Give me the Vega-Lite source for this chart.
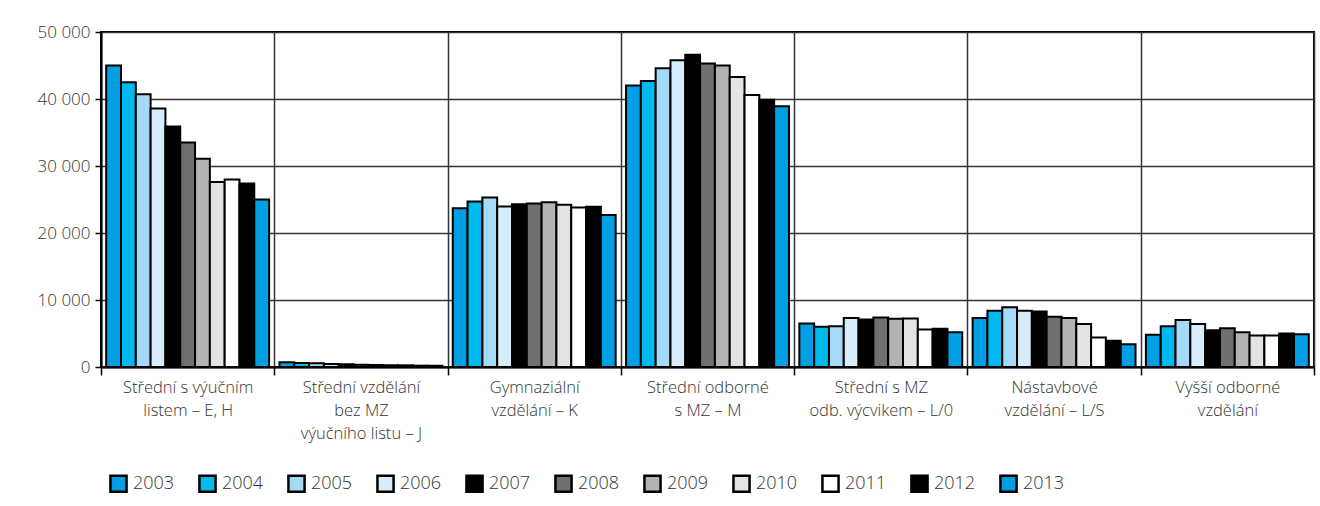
{
  "$schema": "https://vega.github.io/schema/vega-lite/v6.json",
  "width": 1213,
  "height": 335,
  "autosize": "none",
  "padding": {"left": 101, "top": 32, "right": 6, "bottom": 139},
  "background": "white",
  "config": {
    "locale": {"number": {"decimal": ",", "thousands": " ", "grouping": [3], "currency": ["", " Kč"]}},
    "view": {"stroke": "#000", "strokeWidth": 2},
    "font": "Open Sans",
    "axis": {"labelFontWeight": 300},
    "legend": {"labelFontWeight": 300}
  },
  "datasets": {
    "d": [
      {"cat": "Střední s výučním|listem – E, H", "year": "2003", "value": 45000},
      {"cat": "Střední s výučním|listem – E, H", "year": "2004", "value": 42500},
      {"cat": "Střední s výučním|listem – E, H", "year": "2005", "value": 40700},
      {"cat": "Střední s výučním|listem – E, H", "year": "2006", "value": 38600},
      {"cat": "Střední s výučním|listem – E, H", "year": "2007", "value": 35900},
      {"cat": "Střední s výučním|listem – E, H", "year": "2008", "value": 33500},
      {"cat": "Střední s výučním|listem – E, H", "year": "2009", "value": 31100},
      {"cat": "Střední s výučním|listem – E, H", "year": "2010", "value": 27600},
      {"cat": "Střední s výučním|listem – E, H", "year": "2011", "value": 28000},
      {"cat": "Střední s výučním|listem – E, H", "year": "2012", "value": 27400},
      {"cat": "Střední s výučním|listem – E, H", "year": "2013", "value": 25000},
      {"cat": "Střední vzdělání|bez MZ|výučního listu – J", "year": "2003", "value": 700},
      {"cat": "Střední vzdělání|bez MZ|výučního listu – J", "year": "2004", "value": 600},
      {"cat": "Střední vzdělání|bez MZ|výučního listu – J", "year": "2005", "value": 550},
      {"cat": "Střední vzdělání|bez MZ|výučního listu – J", "year": "2006", "value": 450},
      {"cat": "Střední vzdělání|bez MZ|výučního listu – J", "year": "2007", "value": 400},
      {"cat": "Střední vzdělání|bez MZ|výučního listu – J", "year": "2008", "value": 350},
      {"cat": "Střední vzdělání|bez MZ|výučního listu – J", "year": "2009", "value": 300},
      {"cat": "Střední vzdělání|bez MZ|výučního listu – J", "year": "2010", "value": 250},
      {"cat": "Střední vzdělání|bez MZ|výučního listu – J", "year": "2011", "value": 250},
      {"cat": "Střední vzdělání|bez MZ|výučního listu – J", "year": "2012", "value": 200},
      {"cat": "Střední vzdělání|bez MZ|výučního listu – J", "year": "2013", "value": 200},
      {"cat": "Gymnaziální|vzdělání – K", "year": "2003", "value": 23700},
      {"cat": "Gymnaziální|vzdělání – K", "year": "2004", "value": 24700},
      {"cat": "Gymnaziální|vzdělání – K", "year": "2005", "value": 25300},
      {"cat": "Gymnaziální|vzdělání – K", "year": "2006", "value": 23950},
      {"cat": "Gymnaziální|vzdělání – K", "year": "2007", "value": 24300},
      {"cat": "Gymnaziální|vzdělání – K", "year": "2008", "value": 24400},
      {"cat": "Gymnaziální|vzdělání – K", "year": "2009", "value": 24600},
      {"cat": "Gymnaziální|vzdělání – K", "year": "2010", "value": 24200},
      {"cat": "Gymnaziální|vzdělání – K", "year": "2011", "value": 23800},
      {"cat": "Gymnaziální|vzdělání – K", "year": "2012", "value": 23900},
      {"cat": "Gymnaziální|vzdělání – K", "year": "2013", "value": 22700},
      {"cat": "Střední odborné|s MZ – M", "year": "2003", "value": 42000},
      {"cat": "Střední odborné|s MZ – M", "year": "2004", "value": 42700},
      {"cat": "Střední odborné|s MZ – M", "year": "2005", "value": 44600},
      {"cat": "Střední odborné|s MZ – M", "year": "2006", "value": 45800},
      {"cat": "Střední odborné|s MZ – M", "year": "2007", "value": 46600},
      {"cat": "Střední odborné|s MZ – M", "year": "2008", "value": 45300},
      {"cat": "Střední odborné|s MZ – M", "year": "2009", "value": 45000},
      {"cat": "Střední odborné|s MZ – M", "year": "2010", "value": 43300},
      {"cat": "Střední odborné|s MZ – M", "year": "2011", "value": 40600},
      {"cat": "Střední odborné|s MZ – M", "year": "2012", "value": 39900},
      {"cat": "Střední odborné|s MZ – M", "year": "2013", "value": 38900},
      {"cat": "Střední s MZ|odb. výcvikem – L/0", "year": "2003", "value": 6500},
      {"cat": "Střední s MZ|odb. výcvikem – L/0", "year": "2004", "value": 6000},
      {"cat": "Střední s MZ|odb. výcvikem – L/0", "year": "2005", "value": 6100},
      {"cat": "Střední s MZ|odb. výcvikem – L/0", "year": "2006", "value": 7300},
      {"cat": "Střední s MZ|odb. výcvikem – L/0", "year": "2007", "value": 7100},
      {"cat": "Střední s MZ|odb. výcvikem – L/0", "year": "2008", "value": 7400},
      {"cat": "Střední s MZ|odb. výcvikem – L/0", "year": "2009", "value": 7200},
      {"cat": "Střední s MZ|odb. výcvikem – L/0", "year": "2010", "value": 7250},
      {"cat": "Střední s MZ|odb. výcvikem – L/0", "year": "2011", "value": 5600},
      {"cat": "Střední s MZ|odb. výcvikem – L/0", "year": "2012", "value": 5700},
      {"cat": "Střední s MZ|odb. výcvikem – L/0", "year": "2013", "value": 5200},
      {"cat": "Nástavbové|vzdělání – L/S", "year": "2003", "value": 7300},
      {"cat": "Nástavbové|vzdělání – L/S", "year": "2004", "value": 8400},
      {"cat": "Nástavbové|vzdělání – L/S", "year": "2005", "value": 8900},
      {"cat": "Nástavbové|vzdělání – L/S", "year": "2006", "value": 8400},
      {"cat": "Nástavbové|vzdělání – L/S", "year": "2007", "value": 8300},
      {"cat": "Nástavbové|vzdělání – L/S", "year": "2008", "value": 7500},
      {"cat": "Nástavbové|vzdělání – L/S", "year": "2009", "value": 7300},
      {"cat": "Nástavbové|vzdělání – L/S", "year": "2010", "value": 6400},
      {"cat": "Nástavbové|vzdělání – L/S", "year": "2011", "value": 4400},
      {"cat": "Nástavbové|vzdělání – L/S", "year": "2012", "value": 3900},
      {"cat": "Nástavbové|vzdělání – L/S", "year": "2013", "value": 3400},
      {"cat": "Vyšší odborné|vzdělání", "year": "2003", "value": 4800},
      {"cat": "Vyšší odborné|vzdělání", "year": "2004", "value": 6100},
      {"cat": "Vyšší odborné|vzdělání", "year": "2005", "value": 7000},
      {"cat": "Vyšší odborné|vzdělání", "year": "2006", "value": 6400},
      {"cat": "Vyšší odborné|vzdělání", "year": "2007", "value": 5500},
      {"cat": "Vyšší odborné|vzdělání", "year": "2008", "value": 5800},
      {"cat": "Vyšší odborné|vzdělání", "year": "2009", "value": 5200},
      {"cat": "Vyšší odborné|vzdělání", "year": "2010", "value": 4700},
      {"cat": "Vyšší odborné|vzdělání", "year": "2011", "value": 4700},
      {"cat": "Vyšší odborné|vzdělání", "year": "2012", "value": 5000},
      {"cat": "Vyšší odborné|vzdělání", "year": "2013", "value": 4900}
    ]
  },
  "data": {"name": "d"},
  "mark": {"type": "bar", "stroke": "#000", "strokeWidth": 2},
  "encoding": {
    "x": {
      "field": "cat", "type": "nominal", "sort": null, "title": null,
      "scale": {"paddingInner": 0, "paddingOuter": 0},
      "axis": {
        "tickBand": "extent", "grid": true, "gridColor": "#333", "gridWidth": 1.5,
        "domainColor": "#000", "domainWidth": 2, "tickColor": "#000", "tickWidth": 1.5, "tickSize": 8,
        "labelExpr": "split(datum.label, '|')", "labelAngle": 0, "labelFontSize": 16.5,
        "labelLineHeight": 23, "labelPadding": 4, "labelColor": "#333", "labelLimit": 0
      }
    },
    "xOffset": {
      "field": "year", "type": "nominal",
      "scale": {"paddingInner": 0, "paddingOuter": 0.35}
    },
    "y": {
      "field": "value", "type": "quantitative", "title": null,
      "scale": {"domain": [0, 50000]},
      "axis": {
        "values": [0, 10000, 20000, 30000, 40000, 50000], "format": ",.0f",
        "grid": true, "gridColor": "#333", "gridWidth": 1.5,
        "domainColor": "#000", "domainWidth": 2, "tickColor": "#000", "tickWidth": 1.5, "tickSize": 6,
        "labelFontSize": 17, "labelColor": "#333", "labelPadding": 5
      }
    },
    "color": {
      "field": "year", "type": "nominal",
      "scale": {
        "domain": ["2003", "2004", "2005", "2006", "2007", "2008", "2009", "2010", "2011", "2012", "2013"],
        "range": ["#009FE3", "#00B9EE", "#A5DAF7", "#D7EDFB", "#000000", "#707070", "#B2B3B5", "#E3E3E3", "#FFFFFF", "#000000", "#009FE3"]
      },
      "legend": {
        "title": null, "orient": "none", "legendX": 8, "legendY": 442,
        "direction": "horizontal", "columns": 11, "gridAlign": "all",
        "symbolType": "square", "symbolSize": 260, "symbolStrokeColor": "#000", "symbolStrokeWidth": 2.5,
        "labelFontSize": 18, "labelColor": "#333", "labelOffset": 5, "columnPadding": 19
      }
    }
  }
}
